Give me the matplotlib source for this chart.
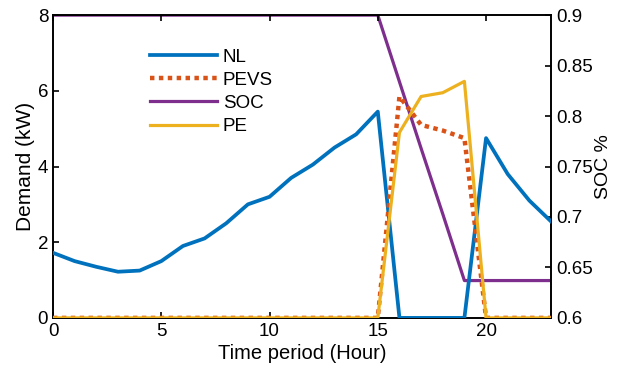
import numpy as np
import matplotlib.pyplot as plt

plt.rcParams.update({
    'font.family': ['Liberation Sans', 'DejaVu Sans'],
    'font.size': 13.5,
    'xtick.direction': 'in',
    'ytick.direction': 'in',
})

# ================= Data =================
hours = np.arange(24)
nl = [1.72, 1.5, 1.35, 1.22, 1.25, 1.5, 1.9, 2.1, 2.5, 3.0, 3.2, 3.7,
      4.05, 4.5, 4.85, 5.45, 0.0, 0.0, 0.0, 0.0, 4.75, 3.8, 3.1, 2.55]
pevs = [0.0] * 16 + [5.85, 5.1, 4.95, 4.75] + [0.0] * 4
pe = [0.0] * 16 + [4.9, 5.85, 5.95, 6.25] + [0.0] * 4
soc = [0.9] * 16 + [0.834, 0.768, 0.703, 0.637] + [0.637] * 4

C_NL = '#0072BD'
C_PEVS = '#D95319'
C_SOC = '#7E2F8E'
C_PE = '#EDB120'

fig = plt.figure(figsize=(6.26, 3.78), dpi=100)
ax = fig.add_axes([0.0847, 0.159, 0.7955, 0.801])
ax2 = ax.twinx()

l1, = ax.plot(hours, nl, color=C_NL, lw=2.7, zorder=3)
l2, = ax.plot(hours, pevs, color=C_PEVS, lw=3.2, ls=(0, (1, 1)), zorder=3)
l4, = ax.plot(hours, pe, color=C_PE, lw=2.3, zorder=4)
l3, = ax2.plot(hours, soc, color=C_SOC, lw=2.3)

ax.set_xlim(0, 23)
ax.set_ylim(0, 8)
ax.set_yticks([0, 2, 4, 6, 8])
ax.set_xticks([0, 5, 10, 15, 20])
ax.tick_params(top=True, width=1.2, length=4, labelsize=13.5)
ax2.set_ylim(0.6, 0.9)
ax2.set_yticks([0.6, 0.65, 0.7, 0.75, 0.8, 0.85, 0.9])
ax2.set_yticklabels(['0.6', '0.65', '0.7', '0.75', '0.8', '0.85', '0.9'])
ax2.tick_params(width=1.2, length=4, labelsize=13.5)

for a in (ax, ax2):
    for s in a.spines.values():
        s.set_linewidth(1.2)

ax.set_zorder(ax2.get_zorder() + 1)
ax.patch.set_visible(False)

ax.set_xlabel('Time period (Hour)', fontsize=14.5, labelpad=3)
ax.set_ylabel('Demand (kW)', fontsize=15, labelpad=2)
ax2.set_ylabel('SOC %', fontsize=14, labelpad=2)

ax.legend([l1, l2, l3, l4], ['NL', 'PEVS', 'SOC', 'PE'],
          loc='upper left', bbox_to_anchor=(0.16, 0.945), frameon=False,
          handlelength=3.6, handletextpad=0.3, labelspacing=0.32, fontsize=13.5)

fig.savefig('out.png', dpi=100)
